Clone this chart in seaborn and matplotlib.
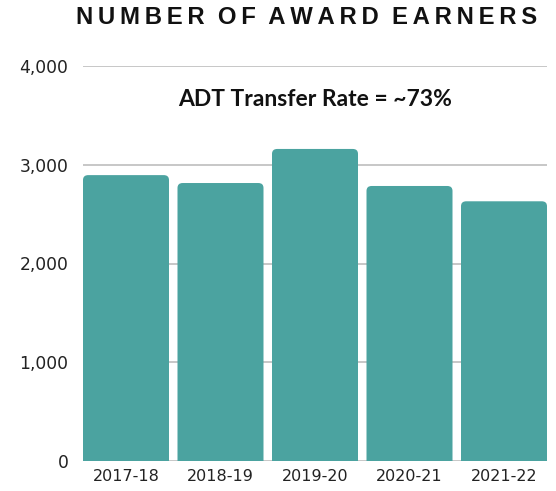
import matplotlib
matplotlib.use("Agg")
import matplotlib.pyplot as plt
import seaborn as sns
import pandas as pd
from matplotlib.patches import FancyBboxPatch
from matplotlib.ticker import FuncFormatter

years = ["2017-18", "2018-19", "2019-20", "2020-21", "2021-22"]
earners = [2895, 2815, 3160, 2785, 2630]
title = "NUMBER OF AWARD EARNERS"
note = "ADT Transfer Rate = ~73%"

sns.set_style("white")
plt.rcParams['font.family'] = ['Lato', 'DejaVu Sans']

df = pd.DataFrame({"year": years, "earners": earners})
fig = plt.figure(figsize=(5.56, 4.91), dpi=100)
ax = fig.add_axes([83/556, 30/491, 464/556, 395/491])
sns.barplot(data=df, x="year", y="earners", color="#4BA3A0", saturation=1,
            width=0.91, ax=ax, zorder=3)

# replace bars with rounded versions
bars = list(ax.patches)
for p in bars:
    x0, w, h = p.get_x(), p.get_width(), p.get_height()
    fb = FancyBboxPatch((x0, -200), w, h + 200,
                        boxstyle="round,pad=0,rounding_size=0.055",
                        mutation_aspect=900, facecolor="#4BA3A0",
                        edgecolor="none", zorder=3)
    ax.add_patch(fb)
    p.remove()

ax.set_xlim(-0.5 + 0.045, 4.5 - 0.045)
ax.set_ylim(0, 4000)
ax.set_yticks([0, 1000, 2000, 3000, 4000])
ax.yaxis.set_major_formatter(FuncFormatter(lambda v, _: f"{int(v):,}"))
ax.grid(axis="y", color="#BDBDBD", linewidth=1.2, zorder=0)
ax.set_axisbelow(True)
for s in ax.spines.values():
    s.set_visible(False)
ax.tick_params(axis="both", length=0, colors="#222222")
ax.tick_params(axis="y", pad=10.5)
ax.tick_params(axis="x", pad=6)
for lab in ax.get_xticklabels():
    lab.set_family(["DejaVu Sans"])
    lab.set_fontsize(11.5)
for lab in ax.get_yticklabels():
    lab.set_family(["DejaVu Sans"])
    lab.set_fontsize(12.3)
ax.set_xlabel("")
ax.set_ylabel("")

ax.text(2, 3665, note, ha="center", va="center", fontsize=16.5,
        fontweight="bold", color="#111111")

spaced = "\u2009".join(list(title)).replace("\u2009 \u2009", "  ")
fig.text(307/556, 1 - 18/491, spaced, ha="center", va="center",
         fontsize=17.2, fontweight="bold", color="#111111",
         family=["Liberation Sans", "DejaVu Sans"])

fig.savefig("out.png", dpi=100)
